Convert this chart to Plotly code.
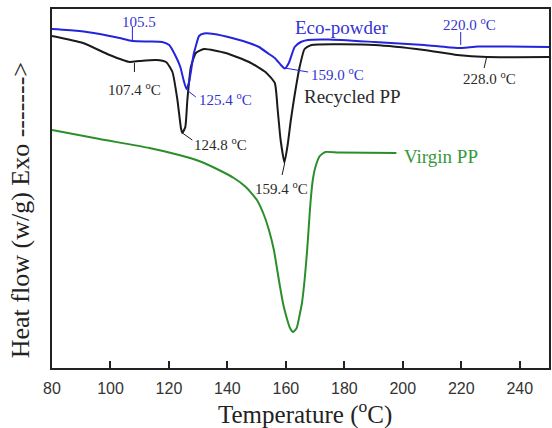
import plotly.graph_objects as go

# Temperature (°C) and heat flow (arbitrary offset units, W/g)
eco_T = [80.0, 89.4, 96.3, 103.1, 107.5, 113.3, 117.7, 120.1, 122.1, 123.9, 125.0, 126.0, 126.9, 127.6,
         128.4, 129.2, 130.3, 132.0, 135.4, 141.6, 147.4, 150.8, 154.2, 156.2, 158.3, 159.6, 161.0,
         163.0, 165.1, 167.5, 174.6, 190.3, 207.3, 218.6, 225.7, 235.9, 250.0]
eco_HF = [3.39, 3.37, 3.34, 3.30, 3.27, 3.265, 3.26, 3.23, 3.13, 3.01, 2.88, 2.79, 2.86, 2.98,
          3.13, 3.22, 3.32, 3.345, 3.34, 3.30, 3.25, 3.21, 3.14, 3.10, 3.03, 2.995, 3.05,
          3.21, 3.26, 3.28, 3.285, 3.26, 3.23, 3.20, 3.215, 3.215, 3.21]

rec_T = [80.0, 90.6, 99.7, 106.5, 109.9, 115.6, 119.0, 121.2, 122.9, 124.1, 124.6, 125.6, 126.3, 127.5,
         129.2, 132.0, 139.4, 147.4, 153.0, 156.2, 157.2, 158.2, 159.5, 160.6, 161.7, 163.0, 164.7,
         166.4, 168.8, 190.3, 207.3, 218.6, 228.8, 250.0]
rec_HF = [3.32, 3.25, 3.13, 3.06, 3.07, 3.08, 3.06, 2.96, 2.68, 2.40, 2.35, 2.41, 2.68, 3.01,
          3.15, 3.19, 3.15, 3.06, 2.96, 2.85, 2.58, 2.28, 2.055, 2.23, 2.48, 2.73, 3.01,
          3.19, 3.23, 3.23, 3.18, 3.13, 3.11, 3.11]

vir_T = [80.0, 96.3, 113.3, 123.5, 130.3, 137.1, 142.2, 146.3, 150.1, 152.5, 154.2, 155.9, 157.6,
         159.0, 160.0, 161.4, 162.5, 163.7, 164.7, 165.5, 166.4, 167.2, 167.8, 168.4, 169.2, 170.1,
         171.6, 173.5, 178.0, 197.8]
vir_HF = [2.38, 2.29, 2.20, 2.13, 2.07, 1.98, 1.90, 1.81, 1.68, 1.53, 1.38, 1.18, 0.88,
          0.65, 0.53, 0.40, 0.36, 0.40, 0.53, 0.65, 0.88, 1.15, 1.40, 1.65, 1.88, 2.01,
          2.12, 2.16, 2.155, 2.15]

x_ticks = [80, 100, 120, 140, 160, 180, 200, 220, 240]

BLUE = "#2424dc"
BLUE_TXT = "#3434d0"
BLACK = "#1a1a1a"
BLACK_TXT = "#2a2a2a"
GREEN = "#2a8f2a"
GREEN_TXT = "#36993a"
SERIF = "Liberation Serif"

fig = go.Figure()
for T, HF, c in [(vir_T, vir_HF, GREEN), (rec_T, rec_HF, BLACK), (eco_T, eco_HF, BLUE)]:
    fig.add_trace(go.Scatter(x=T, y=HF, mode="lines", line=dict(color=c, width=2, shape="spline", smoothing=0.5),
                             showlegend=False, hoverinfo="skip"))

# Annotation labels: (text, x, y, color, size, xanchor)
labels = [
    ("105.5", 109.9, 3.46, BLUE_TXT, 15, "center"),
    ("107.4 <sup>o</sup>C", 108.2, 2.79, BLACK_TXT, 15, "center"),
    ("125.4 <sup>o</sup>C", 139.2, 2.69, BLUE_TXT, 15, "center"),
    ("124.8 <sup>o</sup>C", 137.8, 2.24, BLACK_TXT, 15, "center"),
    ("159.0 <sup>o</sup>C", 177.7, 2.94, BLUE_TXT, 15, "center"),
    ("Eco-powder", 179.2, 3.41, BLUE_TXT, 19, "center"),
    ("Recycled PP", 182.8, 2.72, BLACK_TXT, 19, "center"),
    ("220.0 <sup>o</sup>C", 222.7, 3.44, BLUE_TXT, 15, "center"),
    ("228.0 <sup>o</sup>C", 229.6, 2.90, BLACK_TXT, 15, "center"),
    ("159.4 <sup>o</sup>C", 158.6, 1.805, BLACK_TXT, 15, "center"),
    ("Virgin PP", 200.0, 2.12, GREEN_TXT, 19, "left"),
]
for t, x, y, c, s, xa in labels:
    fig.add_annotation(x=x, y=y, text=t, showarrow=False, xanchor=xa, yanchor="middle",
                       font=dict(family=SERIF, size=s, color=c), borderpad=0)

# Leader lines: (x0, y0, x1, y1, color)
leaders = [
    (107.5, 3.41, 107.5, 3.27, BLUE),
    (108.2, 3.05, 108.2, 2.96, BLACK),
    (126.1, 2.78, 129.2, 2.71, BLUE),
    (124.6, 2.35, 128.0, 2.28, BLACK),
    (159.6, 3.00, 167.6, 2.96, BLUE),
    (219.8, 3.36, 219.8, 3.23, BLUE),
    (228.6, 3.10, 227.8, 3.00, BLACK),
    (159.6, 2.05, 158.7, 1.93, BLACK),
]
for x0, y0, x1, y1, c in leaders:
    fig.add_shape(type="line", x0=x0, y0=y0, x1=x1, y1=y1, xref="x", yref="y",
                  line=dict(color=c, width=1))

fig.add_annotation(text="Temperature (<sup>o</sup>C)", xref="paper", yref="paper", x=0.51, y=-0.125,
                   showarrow=False, xanchor="center", yanchor="middle",
                   font=dict(family=SERIF, size=25, color="#222"))
fig.add_annotation(text="Heat flow (w/g) Exo -------&gt;", xref="paper", yref="paper", x=-0.064, y=0.44,
                   showarrow=False, xanchor="center", yanchor="middle", textangle=-90,
                   font=dict(family=SERIF, size=26, color="#222"))

fig.update_layout(
    width=552, height=428,
    margin=dict(l=52, r=1, t=9, b=60),
    paper_bgcolor="white", plot_bgcolor="white",
    xaxis=dict(range=[80, 250], tickvals=x_ticks, ticktext=[str(v) for v in x_ticks],
               ticks="inside", ticklen=7, tickwidth=2, tickcolor="#222", ticklabelstandoff=5,
               showline=True, linecolor="#222", linewidth=2, mirror=True, showgrid=False, zeroline=False,
               tickfont=dict(family="Liberation Sans", size=16, color="#333")),
    yaxis=dict(range=[0, 3.59], showticklabels=False, ticks="",
               showline=True, linecolor="#222", linewidth=2, mirror=True, showgrid=False, zeroline=False),
)

fig.write_html("out.html", config={"displayModeBar": False, "staticPlot": True},
               post_script="document.body.style.margin='0';document.body.style.overflow='hidden';")
